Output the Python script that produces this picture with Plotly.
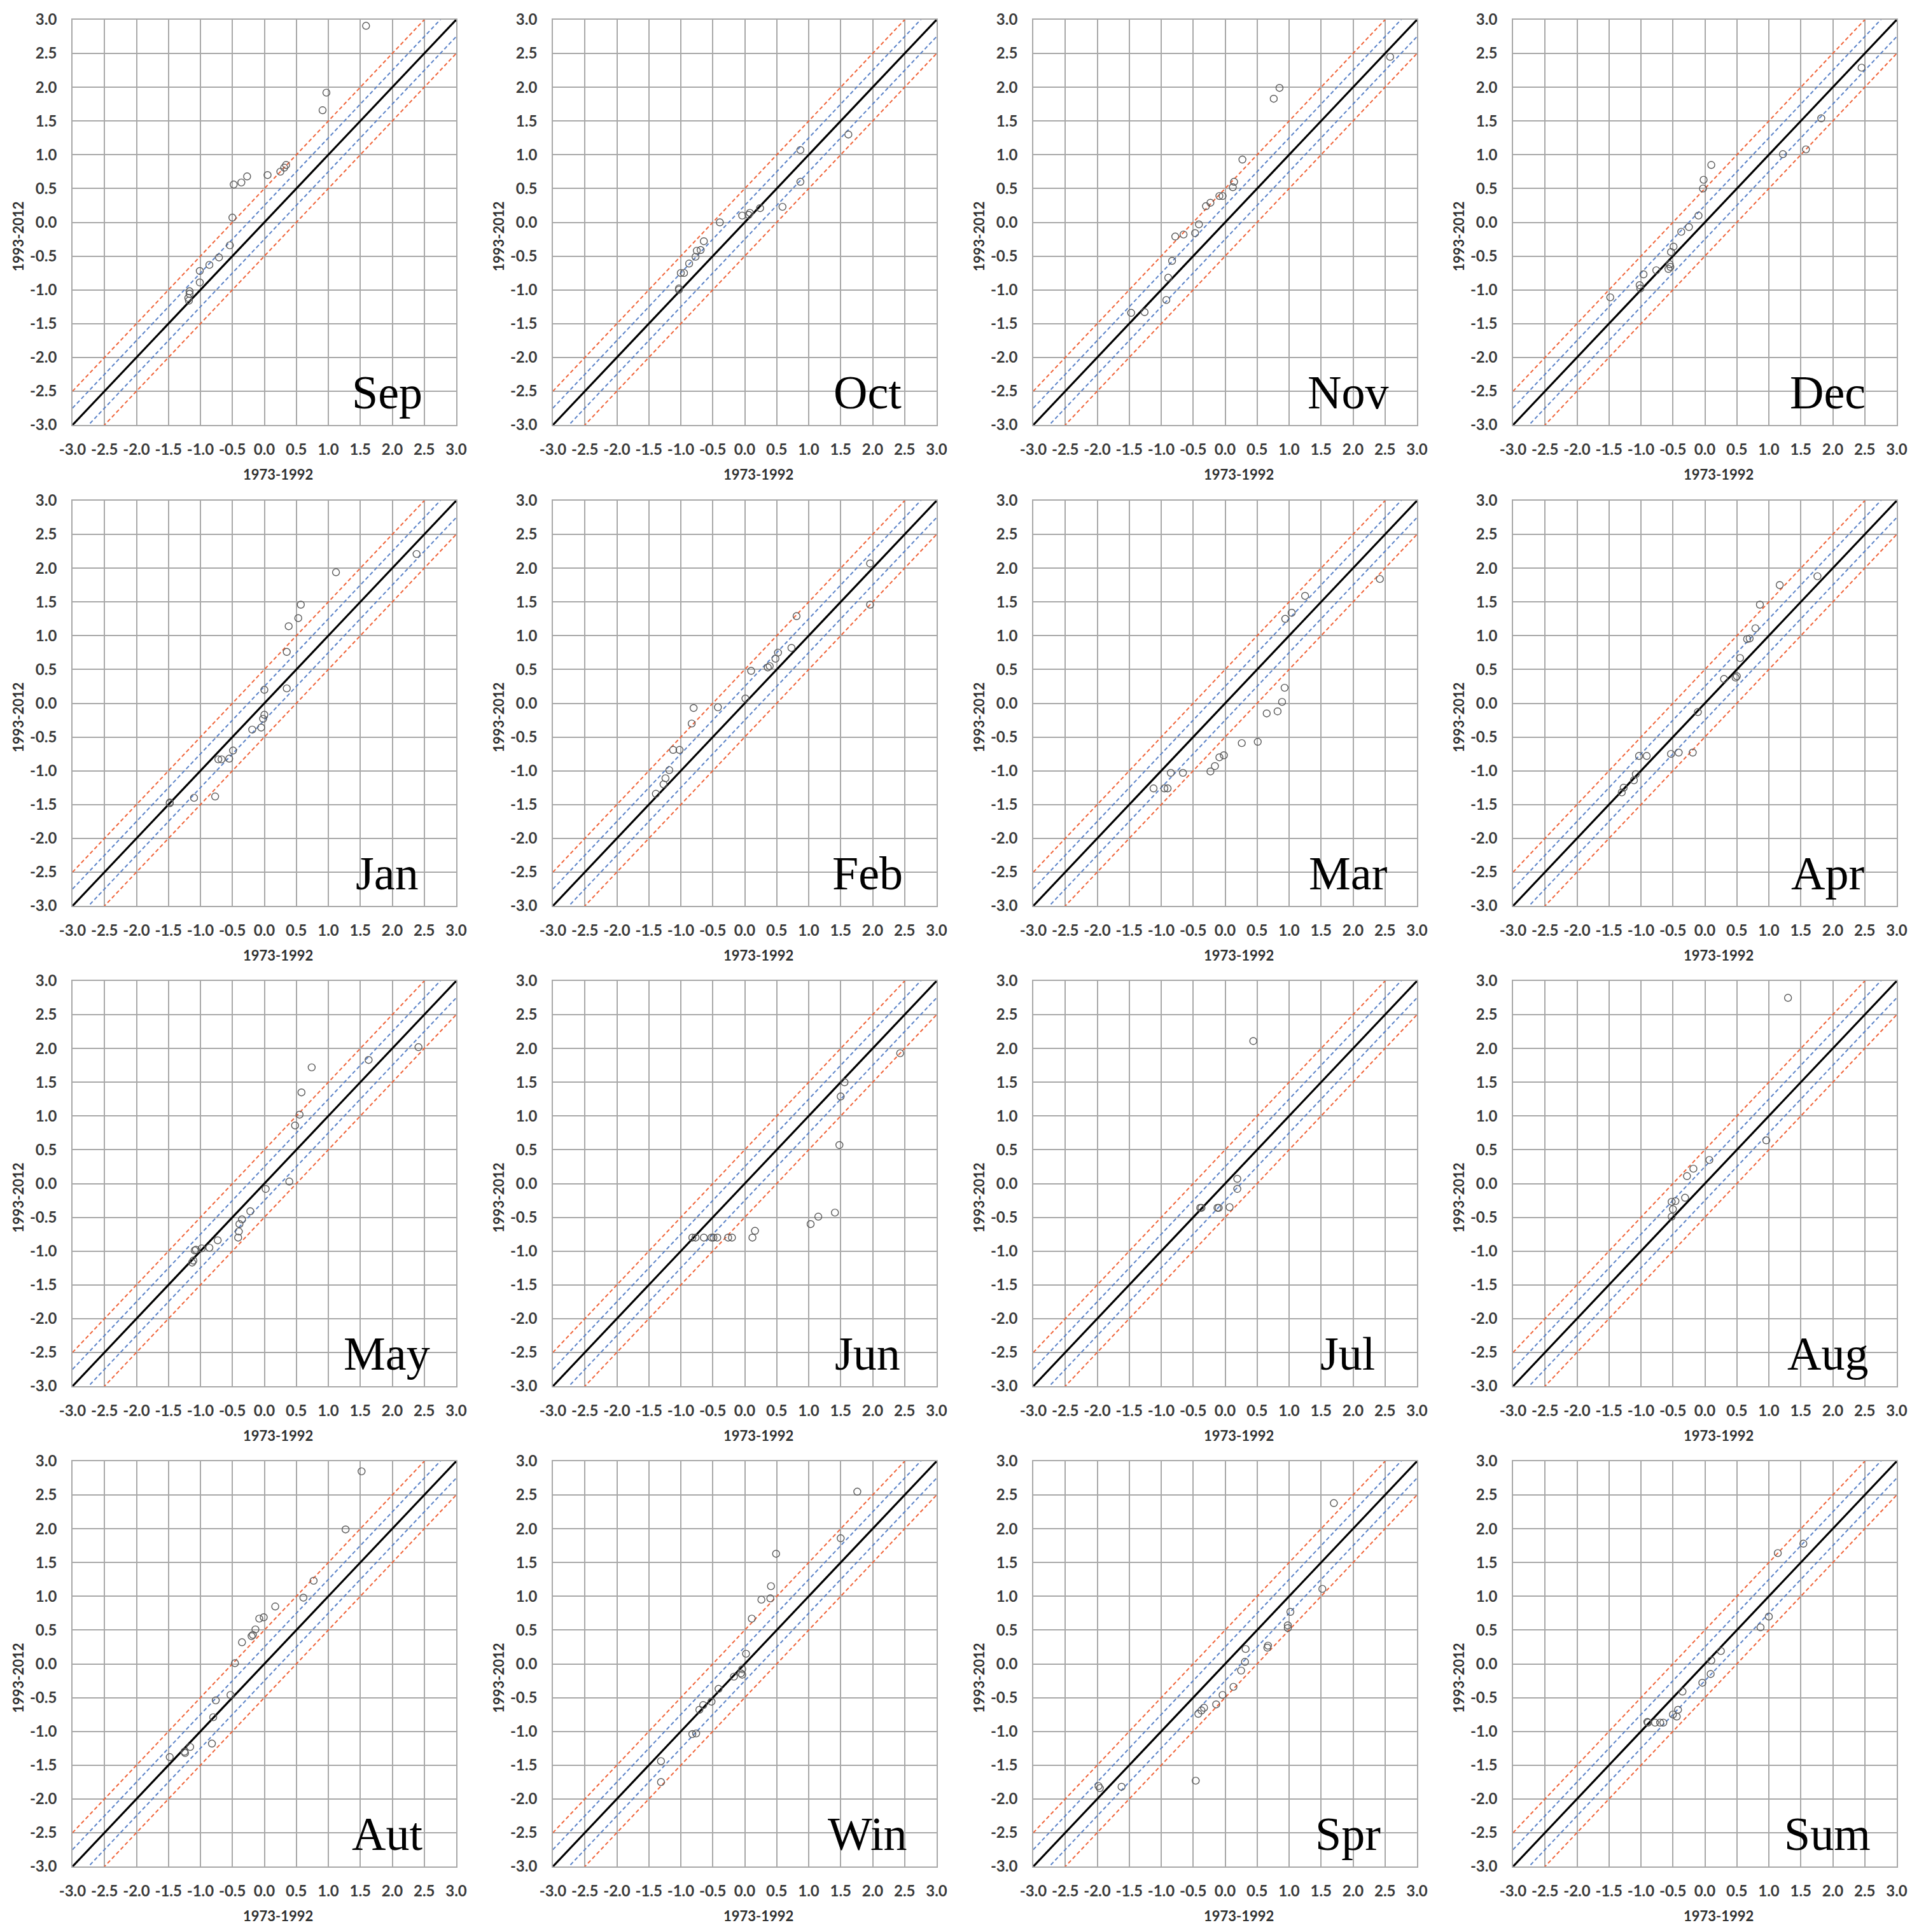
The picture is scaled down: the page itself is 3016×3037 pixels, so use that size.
import plotly.graph_objects as go

# ---- data: 1973-1992 (x) vs 1993-2012 (y) standardised values ----
panel_names = ["Sep", "Oct", "Nov", "Dec",
               "Jan", "Feb", "Mar", "Apr",
               "May", "Jun", "Jul", "Aug",
               "Aut", "Win", "Spr", "Sum"]

sep_x = [1.59, 0.97, 0.91, 0.34, 0.31, 0.25, 0.05, -0.27, -0.36, -0.48, -0.50, -0.54, -0.71, -0.86, -1.01, -1.01, -1.17, -1.19, -1.18, -1.17]
sep_y = [2.91, 1.92, 1.66, 0.85, 0.81, 0.75, 0.70, 0.68, 0.59, 0.56, 0.07, -0.34, -0.52, -0.63, -0.72, -0.89, -1.02, -1.12, -1.16, -1.06]

oct_x = [1.62, 0.87, 0.87, 0.59, 0.24, 0.08, 0.06, -0.04, -0.39, -0.64, -0.69, -0.75, -0.77, -0.87, -0.95, -1.00, -1.03, -1.03]
oct_y = [1.30, 1.07, 0.60, 0.23, 0.21, 0.14, 0.11, 0.10, 0.00, -0.28, -0.41, -0.42, -0.51, -0.61, -0.75, -0.75, -0.98, -1.00]

nov_x = [2.58, 0.85, 0.76, 0.27, 0.14, 0.12, -0.04, -0.09, -0.23, -0.30, -0.41, -0.47, -0.65, -0.78, -0.83, -0.89, -0.92, -1.26, -1.47]
nov_y = [2.45, 1.99, 1.83, 0.93, 0.60, 0.52, 0.39, 0.39, 0.29, 0.24, -0.03, -0.16, -0.18, -0.21, -0.57, -0.82, -1.15, -1.33, -1.34]

dec_x = [2.45, 1.82, 1.58, 1.22, 0.10, -0.02, -0.03, -0.10, -0.25, -0.37, -0.49, -0.53, -0.55, -0.57, -0.54, -0.76, -0.96, -1.02, -1.01, -1.48]
dec_y = [2.29, 1.54, 1.08, 1.01, 0.85, 0.63, 0.50, 0.10, -0.07, -0.14, -0.36, -0.44, -0.62, -0.69, -0.66, -0.71, -0.77, -0.93, -0.98, -1.11]

jan_x = [2.38, 1.12, 0.57, 0.53, 0.38, 0.35, 0.00, 0.35, 0.00, -0.02, -0.05, -0.19, -0.49, -0.55, -0.67, -0.72, -0.77, -1.10, -1.48, -1.48]
jan_y = [2.21, 1.94, 1.46, 1.26, 1.14, 0.76, 0.20, 0.22, -0.17, -0.23, -0.36, -0.39, -0.70, -0.82, -0.83, -0.83, -1.38, -1.40, -1.47, -1.48]

feb_x = [1.96, 1.96, 0.81, 0.73, 0.52, 0.48, 0.39, 0.36, 0.10, 0.01, -0.42, -0.80, -0.83, -1.02, -1.12, -1.18, -1.24, -1.27, -1.39]
feb_y = [2.07, 1.46, 1.29, 0.82, 0.75, 0.66, 0.55, 0.53, 0.48, 0.07, -0.06, -0.07, -0.30, -0.69, -0.69, -0.99, -1.11, -1.20, -1.34]

mar_x = [2.42, 1.25, 1.04, 0.94, 0.93, 0.89, 0.82, 0.65, 0.51, 0.26, -0.02, -0.09, -0.16, -0.23, -0.66, -0.85, -0.90, -0.95, -1.12]
mar_y = [1.84, 1.59, 1.34, 1.25, 0.23, 0.02, -0.12, -0.15, -0.57, -0.59, -0.77, -0.80, -0.93, -1.01, -1.03, -1.03, -1.26, -1.26, -1.26]

apr_x = [1.76, 1.17, 0.86, 0.79, 0.70, 0.66, 0.55, 0.50, 0.48, 0.30, -0.11, -0.19, -0.41, -0.53, -0.91, -1.03, -1.08, -1.11, -1.27, -1.30]
apr_y = [1.88, 1.75, 1.46, 1.11, 0.96, 0.95, 0.67, 0.40, 0.38, 0.36, -0.13, -0.73, -0.73, -0.75, -0.78, -0.78, -1.05, -1.14, -1.25, -1.32]

may_x = [2.41, 1.63, 0.74, 0.58, 0.55, 0.48, 0.39, 0.02, -0.22, -0.35, -0.39, -0.40, -0.41, -0.73, -0.86, -0.98, -1.07, -1.09, -1.11, -1.13]
may_y = [2.02, 1.83, 1.72, 1.35, 1.02, 0.86, 0.03, -0.08, -0.41, -0.53, -0.60, -0.71, -0.80, -0.84, -0.95, -0.96, -0.98, -0.99, -1.14, -1.17]

jun_x = [2.43, 1.56, 1.50, 1.48, 1.41, 1.15, 1.03, 0.16, 0.12, -0.20, -0.26, -0.43, -0.49, -0.52, -0.64, -0.77, -0.82]
jun_y = [1.93, 1.50, 1.29, 0.57, -0.43, -0.49, -0.60, -0.70, -0.80, -0.80, -0.80, -0.80, -0.80, -0.80, -0.80, -0.80, -0.80]

jul_x = [0.44, 0.19, 0.19, 0.07, -0.10, -0.12, -0.37, -0.39]
jul_y = [2.11, 0.07, -0.08, -0.35, -0.36, -0.36, -0.36, -0.36]

aug_x = [1.30, 0.96, 0.07, -0.18, -0.28, -0.31, -0.46, -0.52, -0.50, -0.52]
aug_y = [2.75, 0.64, 0.35, 0.22, 0.11, -0.21, -0.26, -0.27, -0.38, -0.49]

aut_x = [1.52, 1.27, 0.77, 0.61, 0.17, -0.01, -0.08, -0.14, -0.18, -0.20, -0.35, -0.46, -0.53, -0.76, -0.80, -0.82, -1.16, -1.24, -1.25, -1.48]
aut_y = [2.85, 1.99, 1.23, 0.98, 0.85, 0.69, 0.67, 0.51, 0.43, 0.41, 0.32, 0.01, -0.46, -0.54, -0.79, -1.18, -1.23, -1.32, -1.30, -1.38]

win_x = [1.76, 1.50, 0.49, 0.41, 0.40, 0.26, 0.11, 0.02, -0.04, -0.06, -0.04, -0.17, -0.41, -0.52, -0.65, -0.71, -0.76, -0.82, -1.31, -1.31]
win_y = [2.55, 1.86, 1.63, 1.15, 0.97, 0.95, 0.67, 0.15, -0.08, -0.14, -0.16, -0.19, -0.37, -0.56, -0.61, -0.68, -1.03, -1.04, -1.44, -1.75]

spr_x = [1.70, 1.52, 1.02, 0.98, 0.98, 0.67, 0.66, 0.32, 0.31, 0.25, 0.13, -0.04, -0.14, -0.33, -0.37, -0.42, -0.46, -1.62, -1.98, -1.96]
spr_y = [2.38, 1.11, 0.77, 0.57, 0.53, 0.27, 0.24, 0.22, 0.03, -0.10, -0.34, -0.46, -0.60, -0.65, -0.69, -0.74, -1.73, -1.82, -1.81, -1.84]

sum_x = [1.54, 1.14, 1.00, 0.87, 0.25, 0.10, 0.09, -0.04, -0.35, -0.42, -0.44, -0.50, -0.65, -0.70, -0.78, -0.89, -0.90]
sum_y = [1.78, 1.64, 0.70, 0.54, 0.19, 0.05, -0.15, -0.28, -0.41, -0.68, -0.78, -0.75, -0.87, -0.87, -0.87, -0.87, -0.86]

panel_x = [sep_x, oct_x, nov_x, dec_x, jan_x, feb_x, mar_x, apr_x,
           may_x, jun_x, jul_x, aug_x, aut_x, win_x, spr_x, sum_x]
panel_y = [sep_y, oct_y, nov_y, dec_y, jan_y, feb_y, mar_y, apr_y,
           may_y, jun_y, jul_y, aug_y, aut_y, win_y, spr_y, sum_y]

tick_vals = [-3.0, -2.5, -2.0, -1.5, -1.0, -0.5, 0.0, 0.5, 1.0, 1.5, 2.0, 2.5, 3.0]
tick_labels = ["-3.0", "-2.5", "-2.0", "-1.5", "-1.0", "-0.5", "0.0",
               "0.5", "1.0", "1.5", "2.0", "2.5", "3.0"]
x_title = "1973-1992"
y_title = "1993-2012"

# 1:1 line and the +/-0.25, +/-0.5 bands
band_offsets = [0.5, 0.25, -0.25, -0.5]
band_colors = ["#f0643a", "#5a82c8", "#5a82c8", "#f0643a"]

# ---- layout geometry (pixels); page body adds ~8px, so positions are pulled back ----
W, H = 3016, 3037
page_pad = 8
col_left = [114 - page_pad, 869 - page_pad, 1624 - page_pad, 2378 - page_pad]
row_top = [31 - page_pad, 787 - page_pad, 1542 - page_pad, 2297 - page_pad]
plot_w, plot_h = 603, 637
axis_range = [tick_vals[0], tick_vals[-1]]

tick_font = dict(family="Lato", size=24, color="#3a3a3a", weight="bold")
grid_col = "#a8a8a8"

fig = go.Figure()
annotations = []

for i, name in enumerate(panel_names):
    n = i + 1
    s = "" if n == 1 else str(n)
    r, c = divmod(i, 4)

    # bands
    for off, col in zip(band_offsets, band_colors):
        fig.add_trace(go.Scatter(
            x=axis_range, y=[v + off for v in axis_range], mode="lines",
            line=dict(color=col, width=2, dash="6px,4px"),
            xaxis="x" + s, yaxis="y" + s, showlegend=False, hoverinfo="skip"))
    fig.add_trace(go.Scatter(
        x=axis_range, y=axis_range, mode="lines",
        line=dict(color="black", width=3.2),
        xaxis="x" + s, yaxis="y" + s, showlegend=False, hoverinfo="skip"))

    # points
    fig.add_trace(go.Scatter(
        x=panel_x[i], y=panel_y[i], mode="markers",
        marker=dict(symbol="circle-open", size=11, color="#5a5a5a", line=dict(width=1.4)),
        xaxis="x" + s, yaxis="y" + s, showlegend=False, name=name))

    x0 = col_left[c] / W
    x1 = (col_left[c] + plot_w) / W
    y1 = 1 - row_top[r] / H
    y0 = 1 - (row_top[r] + plot_h) / H

    axis_common = dict(
        range=axis_range, tickvals=tick_vals, ticktext=tick_labels,
        tickfont=tick_font, tickangle=0, showgrid=True, gridcolor=grid_col, gridwidth=1.6,
        zeroline=False, showline=True, linecolor=grid_col, linewidth=1.6, mirror=True,
        ticks="", fixedrange=True, automargin=False)
    fig.layout["xaxis" + s] = dict(axis_common, domain=[x0, x1], anchor="y" + s,
                                   ticklabelstandoff=16)
    fig.layout["yaxis" + s] = dict(axis_common, domain=[y0, y1], anchor="x" + s,
                                   ticklabelstandoff=18)

    xd = "x" + s + " domain"
    yd = "y" + s + " domain"
    annotations.append(dict(
        text=name, xref=xd, yref=yd, x=0.82, y=0.08, xanchor="center", yanchor="middle",
        showarrow=False, font=dict(family="Liberation Serif", size=74, color="black")))
    annotations.append(dict(
        text=x_title, xref=xd, yref=yd, x=0.535, y=-0.121, xanchor="center", yanchor="middle",
        showarrow=False, font=dict(family="Lato", size=22, color="#303030", weight="bold")))
    annotations.append(dict(
        text=y_title, xref=xd, yref=yd, x=-0.141, y=0.465, xanchor="center", yanchor="middle",
        textangle=-90, showarrow=False,
        font=dict(family="Lato", size=22, color="#303030", weight="bold")))

fig.update_layout(
    width=W, height=H,
    margin=dict(l=0, r=0, t=0, b=0, autoexpand=False),
    paper_bgcolor="white", plot_bgcolor="white",
    annotations=annotations,
)

fig.write_html("out.html")
